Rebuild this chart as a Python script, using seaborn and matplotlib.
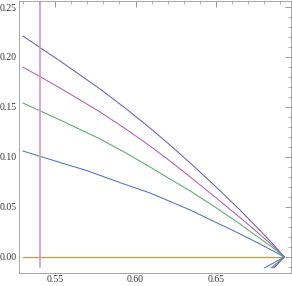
import numpy as np
import pandas as pd
import matplotlib
matplotlib.use("Agg")
import matplotlib.pyplot as plt
import seaborn as sns
from matplotlib.ticker import MultipleLocator, FormatStrFormatter

# curves (x, y); each one turns back below zero at the end
top_x = [0.530, 0.5531, 0.578, 0.5935, 0.609, 0.6214, 0.634, 0.6494, 0.6649, 0.677, 0.6848, 0.6925, 0.686]
top_y = [0.221, 0.196, 0.168, 0.149, 0.129, 0.112, 0.094, 0.071, 0.047, 0.027, 0.014, 0.000, -0.011]
mag_x = [0.530, 0.5531, 0.578, 0.5935, 0.609, 0.6214, 0.634, 0.6494, 0.6649, 0.674, 0.6848, 0.6925, 0.685]
mag_y = [0.190, 0.169, 0.145, 0.1285, 0.111, 0.096, 0.080, 0.060, 0.0395, 0.027, 0.012, 0.000, -0.011]
grn_x = [0.530, 0.5531, 0.578, 0.5935, 0.609, 0.6214, 0.634, 0.6494, 0.6649, 0.670, 0.6848, 0.6925, 0.684]
grn_y = [0.154, 0.137, 0.118, 0.1045, 0.090, 0.078, 0.066, 0.050, 0.033, 0.027, 0.010, 0.000, -0.011]
low_x = [0.530, 0.5531, 0.5686, 0.5935, 0.609, 0.6214, 0.634, 0.6494, 0.660, 0.6773, 0.6925, 0.680]
low_y = [0.106, 0.0945, 0.087, 0.0726, 0.064, 0.0556, 0.047, 0.035, 0.027, 0.013, 0.000, -0.011]

vline_x = [0.5405, 0.5405]
vline_y = [-0.010, 0.260]
zero_x = [0.530, 0.6925]
zero_y = [0.0, 0.0]

series = [
    (top_x, top_y, "#6262c4"),
    (mag_x, mag_y, "#b85cb0"),
    (grn_x, grn_y, "#58ac68"),
    (low_x, low_y, "#5072c2"),
]

sns.set_style("white")
plt.rcParams["font.family"] = ["Liberation Serif", "DejaVu Serif"]

fig = plt.figure(figsize=(2.92, 2.86), dpi=100)
ax = fig.add_axes([0.065, 0.0455, 0.9316, 0.951])

sns.lineplot(x=zero_x, y=zero_y, color="#b4a050", lw=0.9, ax=ax)
for xs, ys, c in series:
    sns.lineplot(x=xs, y=ys, sort=False, estimator=None, color=c, lw=0.75, ax=ax)
sns.lineplot(x=vline_x, y=vline_y, sort=False, estimator=None,
             color="#d898b8", lw=1.2, ax=ax)

ax.set_xlim(0.5276, 0.6966)
ax.set_ylim(-0.016, 0.256)
ax.xaxis.set_major_locator(MultipleLocator(0.05))
ax.xaxis.set_minor_locator(MultipleLocator(0.01))
ax.yaxis.set_major_locator(MultipleLocator(0.05))
ax.yaxis.set_minor_locator(MultipleLocator(0.01))
ax.xaxis.set_major_formatter(FormatStrFormatter("%.2f"))
ax.yaxis.set_major_formatter(FormatStrFormatter("%.2f"))
ax.tick_params(which="both", direction="in", top=True, right=True,
               color="#888888", labelsize=7, labelcolor="#333333", pad=1.5)
ax.tick_params(which="major", length=4, width=0.6)
ax.tick_params(which="minor", length=2, width=0.5)
for s in ax.spines.values():
    s.set_color("#999999")
    s.set_linewidth(0.6)
ax.set_xlabel("")
ax.set_ylabel("")

fig.savefig("out.png", dpi=100)
